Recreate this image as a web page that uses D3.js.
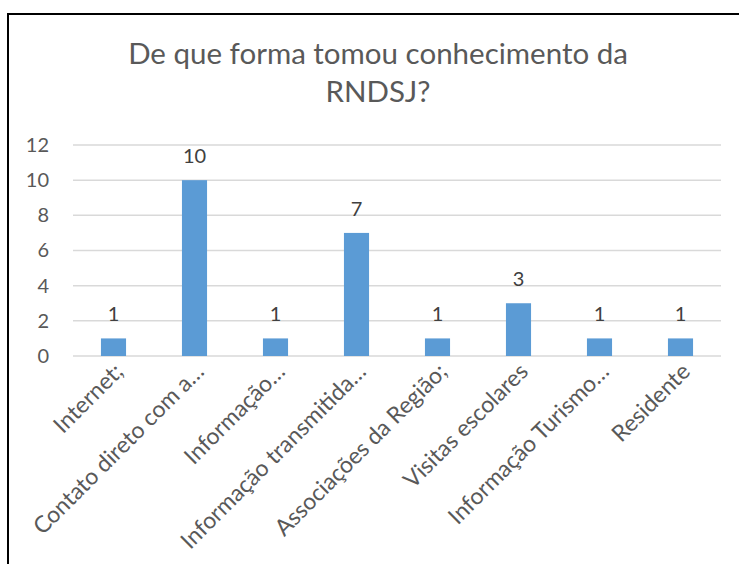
<!DOCTYPE html>
<html>
<head>
<meta charset="utf-8">
<script src="https://cdn.jsdelivr.net/npm/d3@7"></script>
<style>
  body { margin: 0; background: #fff; }
  svg { display: block; font-family: Lato, "Open Sans", sans-serif; }
</style>
</head>
<body>
<div id="chart"></div>
<script>
const categories = [
  "Internet;",
  "Contato direto com a…",
  "Informação…",
  "Informação transmitida…",
  "Associações da Região;",
  "Visitas escolares",
  "Informação Turismo…",
  "Residente"
];
const values = [1, 10, 1, 7, 1, 3, 1, 1];
const yTicks = [0, 2, 4, 6, 8, 10, 12];
const titleLines = ["De que forma tomou conhecimento da", "RNDSJ?"];

const width = 739, height = 564;
const plot = { left: 73, right: 721, top: 145, bottom: 356 };

const svg = d3.select("#chart")
  .append("svg")
  .attr("width", width)
  .attr("height", height);

// chart frame (right and bottom edges fall outside the picture)
svg.append("rect")
  .attr("x", 8).attr("y", 14)
  .attr("width", 740).attr("height", 600)
  .attr("fill", "none")
  .attr("stroke", "#000")
  .attr("stroke-width", 2);

svg.append("text")
  .attr("text-anchor", "middle")
  .attr("fill", "#595959")
  .style("font-size", "29.5px")
  .selectAll("tspan")
  .data(titleLines)
  .enter()
  .append("tspan")
  .attr("x", 378)
  .attr("y", (d, i) => 64 + i * 38)
  .text(d => d);

const x = d3.scaleBand()
  .domain(categories)
  .range([plot.left, plot.right])
  .paddingInner(0.69)
  .paddingOuter(0.345);

const y = d3.scaleLinear()
  .domain([0, 12])
  .range([plot.bottom, plot.top]);

// gridlines
svg.append("g")
  .selectAll("line")
  .data(yTicks)
  .enter()
  .append("line")
  .attr("x1", plot.left)
  .attr("x2", plot.right)
  .attr("y1", d => y(d))
  .attr("y2", d => y(d))
  .attr("stroke", "#d9d9d9")
  .attr("stroke-width", 1.5);

const yAxis = d3.axisLeft(y).tickValues(yTicks).tickSize(0).tickPadding(0);
svg.append("g")
  .attr("transform", "translate(49,0)")
  .call(yAxis)
  .call(g => g.select(".domain").remove())
  .selectAll("text")
  .attr("fill", "#595959")
  .style("font-size", "20px")
  .style("font-family", "Lato, sans-serif");

svg.append("g")
  .selectAll("rect")
  .data(values)
  .enter()
  .append("rect")
  .attr("x", (d, i) => x(categories[i]))
  .attr("y", d => y(d))
  .attr("width", x.bandwidth())
  .attr("height", d => y(0) - y(d))
  .attr("fill", "#5b9bd5");

svg.append("g")
  .selectAll("text")
  .data(values)
  .enter()
  .append("text")
  .attr("x", (d, i) => x(categories[i]) + x.bandwidth() / 2)
  .attr("y", d => y(d) - 17)
  .attr("text-anchor", "middle")
  .attr("fill", "#404040")
  .style("font-size", "20px")
  .text(d => d);

const xAxis = d3.axisBottom(x).tickSize(0).tickPadding(0);
svg.append("g")
  .attr("transform", "translate(0," + plot.bottom + ")")
  .call(xAxis)
  .call(g => g.select(".domain").remove())
  .selectAll("text")
  .attr("fill", "#595959")
  .style("font-size", "23px")
  .style("font-family", "Lato, sans-serif")
  .attr("text-anchor", "end")
  .attr("dy", 0)
  .attr("transform", "translate(11,17) rotate(-45)");
</script>
</body>
</html>
